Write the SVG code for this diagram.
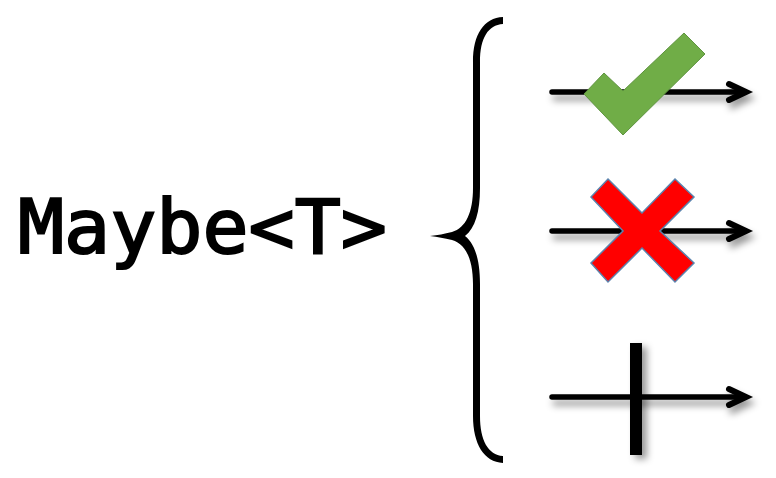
<svg xmlns="http://www.w3.org/2000/svg" width="776" height="478" viewBox="0 0 776 478">
<style>
.a{fill:none;stroke:#000;stroke-width:5.5;stroke-linecap:round}
.h{fill:none;stroke:#000;stroke-width:6;stroke-linecap:round;stroke-linejoin:miter}
text{font-family:"DejaVu Sans Mono","Liberation Mono",monospace;font-size:74px;font-weight:400;fill:#000;stroke:#000;stroke-width:2}
</style>
<defs>
<filter id="s" x="-20%" y="-100%" width="140%" height="300%"><feDropShadow dx="3" dy="6" stdDeviation="3.5" flood-color="#000" flood-opacity="0.4"/></filter>
<filter id="b" x="-200%" y="-20%" width="500%" height="140%"><feDropShadow dx="5" dy="4" stdDeviation="3.5" flood-color="#000" flood-opacity="0.4"/></filter>
<filter id="soft" x="-5%" y="-5%" width="110%" height="110%"><feGaussianBlur stdDeviation="0.5"/></filter>
</defs>
<rect width="776" height="478" fill="#fff"/>
<g id="title"><text x="18" y="253" textLength="369" lengthAdjust="spacingAndGlyphs">Maybe&lt;T&gt;</text></g>
<g id="connectors">
<g id="brace"><path d="M503 17C484 18 473 34 473 62V188C473 212 466 228 452 232C444 234 438 235 430 236C438 237 444 238 452 240C466 244 473 260 473 284V416C473 444 484 462 503 463V456C488 455 480 440 480 416V284C480 260 475 244 465 236C475 228 480 212 480 188V62C480 38 488 25 503 24Z" fill="#000" filter="url(#soft)"/></g>
<g id="arrow-some" filter="url(#s)"><path class="a" d="M552 92H745"/><path class="h" d="M729 84L746 92L729 100"/></g>
<g id="arrow-error" filter="url(#s)"><path class="a" d="M552 231H745"/><path class="h" d="M729 223L746 231L729 239"/></g>
<g id="arrow-none" filter="url(#s)"><path class="a" d="M552 397H745"/><path class="h" d="M729 389L746 397L729 405"/></g>
</g>
<g id="check"><polygon points="684,33 705,54 623,135 584,94 604,73 623,91" fill="#70ad47" stroke="#5f9440" stroke-width="1"/></g>
<g id="cross"><polygon points="608,179 642,213 675,179 694,197 660,231 694,263 675,282 642,248 608,282 591,263 623,231 591,197" fill="#ff0000" stroke="#5b83ad" stroke-width="1.5"/></g>
<g id="bar"><rect x="630" y="343" width="12" height="112" fill="#000" filter="url(#b)"/></g>
</svg>
